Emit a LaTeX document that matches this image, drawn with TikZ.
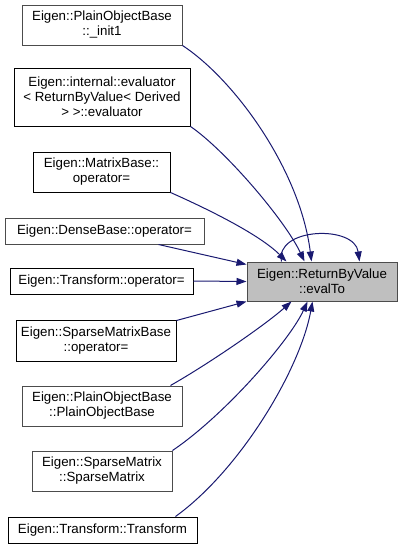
\documentclass[tikz,border=0pt]{standalone}
\usepackage{fontspec}
\setmainfont{Liberation Sans}
\usetikzlibrary{arrows.meta,calc}
\definecolor{edgeblue}{HTML}{191970}
\begin{document}
\begin{tikzpicture}[
  x=1pt, y=-1pt,
  fn/.style = {draw=black, line width=1pt, fill=white, align=center, inner sep=0pt,
    font=\fontsize{13.3}{15}\selectfont},
  fng/.style = {fn, draw=black!70},
  cur/.style = {fn, draw=black!70, fill=black!25},
  call/.style = {-{Triangle[length=10pt, width=7pt]}, line width=1pt, draw=edgeblue},
]
\useasboundingbox (0,0) rectangle (403,549);
% called function
\node[cur, minimum width=150pt, minimum height=39pt] (target) at (322,281.5)
  {Eigen::ReturnByValue\\::evalTo};
% callers
\node[fng, minimum width=160pt, minimum height=40pt] (init1) at (102,25)
  {Eigen::PlainObjectBase\\::\_init1};
\node[fn, minimum width=176pt, minimum height=58pt] (evaluator) at (102,97)
  {Eigen::internal::evaluator\\< ReturnByValue< Derived\\> >::evaluator};
\node[fn, minimum width=137pt, minimum height=40pt] (matop) at (101.5,172)
  {Eigen::MatrixBase::\\operator=};
\node[fng, minimum width=199pt, minimum height=26pt] (denseop) at (104.5,231)
  {Eigen::DenseBase::operator=};
\node[fn, minimum width=183pt, minimum height=26pt] (transop) at (101.5,281)
  {Eigen::Transform::operator=};
\node[fn, minimum width=160pt, minimum height=41pt] (sparseop) at (96,340.5)
  {Eigen::SparseMatrixBase\\::operator=};
\node[fng, minimum width=160pt, minimum height=40pt] (plainctor) at (102,406)
  {Eigen::PlainObjectBase\\::PlainObjectBase};
\node[fng, minimum width=140pt, minimum height=40pt] (sparsector) at (102,471)
  {Eigen::SparseMatrix\\::SparseMatrix};
\node[fn, minimum width=189pt, minimum height=26pt] (transctor) at (102.5,530)
  {Eigen::Transform::Transform};
% calls
\draw[call] (init1.south east) .. controls (235,80) and (300,170)
  .. ($(target.north west)+(65,0)$);
\draw[call] (evaluator.south east) .. controls (225,150) and (285,220)
  .. ($(target.north west)+(58,0)$);
\draw[call] (matop.south east) .. controls (210,210) and (260,235)
  .. ($(target.north west)+(40,0)$);
\draw[call] ($(denseop.south east)+(-46,0)$) -- ($(target.north west)+(0,3)$);
\draw[call] (transop.east) -- (target.west);
\draw[call] ($(sparseop.north east)+(0,1)$) -- ($(target.south west)+(0,0)$);
\draw[call] ($(plainctor.north east)+(-12,0)$) .. controls (210,363) and (265,325)
  .. ($(target.south west)+(45,0)$);
\draw[call] (sparsector.north east) .. controls (225,415) and (290,340)
  .. ($(target.south west)+(61,0)$);
\draw[call] ($(transctor.north east)+(-22,0)$) .. controls (240,470) and (300,370)
  .. ($(target.south west)+(66,0)$);
\draw[call] ($(target.north west)+(35,0)$) .. controls ($(target.north west)+(28,-34)$)
  and ($(target.north west)+(108,-37)$) .. ($(target.north west)+(113,0)$);
\end{tikzpicture}
\end{document}
